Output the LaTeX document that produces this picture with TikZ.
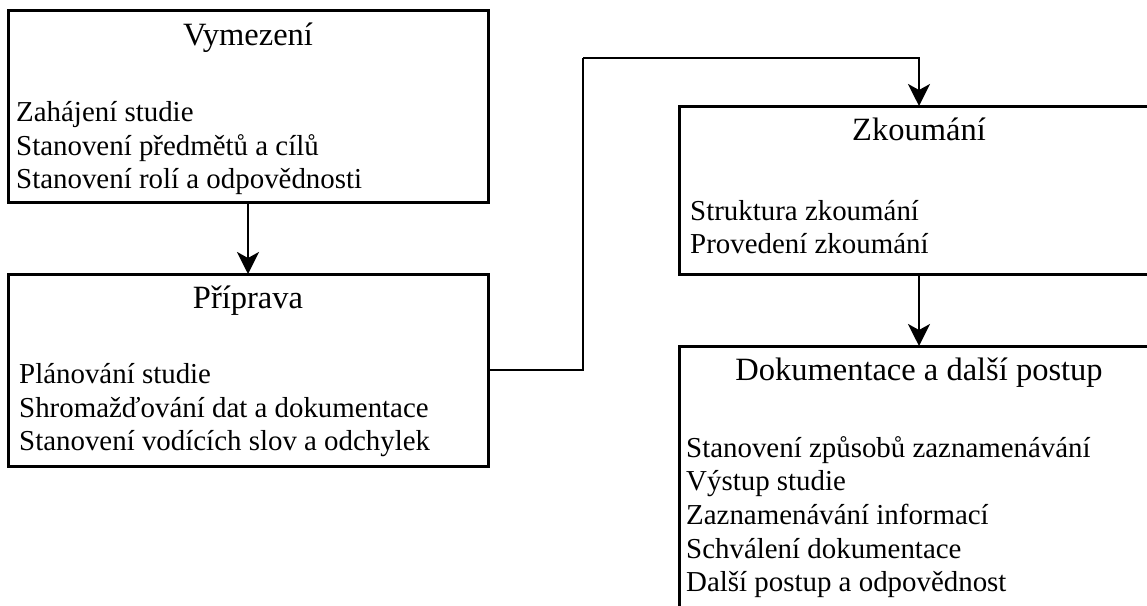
\documentclass[tikz,border=0pt]{standalone}
\usepackage{fontspec}
\setmainfont{Liberation Serif}
\usetikzlibrary{arrows.meta}
\begin{document}
\begin{tikzpicture}[x=1pt,y=-1pt,
  stagebox/.style={draw, line width=3pt, rectangle, inner sep=0pt, outer sep=0pt,
    anchor=north west, minimum width=480pt},
  stagetitle/.style={font=\fontsize{32.5}{39}\selectfont, anchor=base, inner sep=0pt},
  stageitem/.style={font=\fontsize{28.9}{34}\selectfont, anchor=base west, inner sep=0pt},
  flow/.style={line width=2.3pt, -{Stealth[length=22pt,width=22pt,inset=6pt]}},
  link/.style={line width=2.3pt}]
\path[use as bounding box, clip] (0,0) rectangle (1147,605);

% stage boxes
\node[stagebox, minimum height=192pt] (vym) at (8,10) {};
\node[stagebox, minimum height=192pt] (pri) at (8,274) {};
\node[stagebox, minimum height=168pt] (zko) at (679,106) {};
\node[stagebox, minimum height=300pt] (dok) at (679,346) {};

% Vymezení
\node[stagetitle] (vymT) at (248,45) {Vymezení};
\node[stageitem] (vym1) at (16,121) {Zahájení studie};
\node[stageitem] (vym2) at (16,155) {Stanovení předmětů a cílů};
\node[stageitem] (vym3) at (16,188) {Stanovení rolí a odpovědnosti};

% Příprava
\node[stagetitle] (priT) at (248,308) {Příprava};
\node[stageitem] (pri1) at (19,383) {Plánování studie};
\node[stageitem] (pri2) at (19,417) {Shromažďování dat a dokumentace};
\node[stageitem] (pri3) at (19,450) {Stanovení vodících slov a odchylek};

% Zkoumání
\node[stagetitle] (zkoT) at (919,140) {Zkoumání};
\node[stageitem] (zko1) at (690,220) {Struktura zkoumání};
\node[stageitem] (zko2) at (690,253) {Provedení zkoumání};

% Dokumentace a další postup
\node[stagetitle] (dokT) at (919,380) {Dokumentace a další postup};
\node[stageitem] (dok1) at (686,457) {Stanovení způsobů zaznamenávání};
\node[stageitem] (dok2) at (686,490.7) {Výstup studie};
\node[stageitem] (dok3) at (686,524.4) {Zaznamenávání informací};
\node[stageitem] (dok4) at (686,558) {Schválení dokumentace};
\node[stageitem] (dok5) at (686,591.8) {Další postup a odpovědnost};

% connectors
\coordinate (bend) at (583,58);
\draw[flow] (vym.south) -- (pri.north);
\draw[link] (pri.east) -| (bend);
\draw[flow] (bend) -| (zko.north);
\draw[flow] (zko.south) -- (dok.north);
\end{tikzpicture}
\end{document}
